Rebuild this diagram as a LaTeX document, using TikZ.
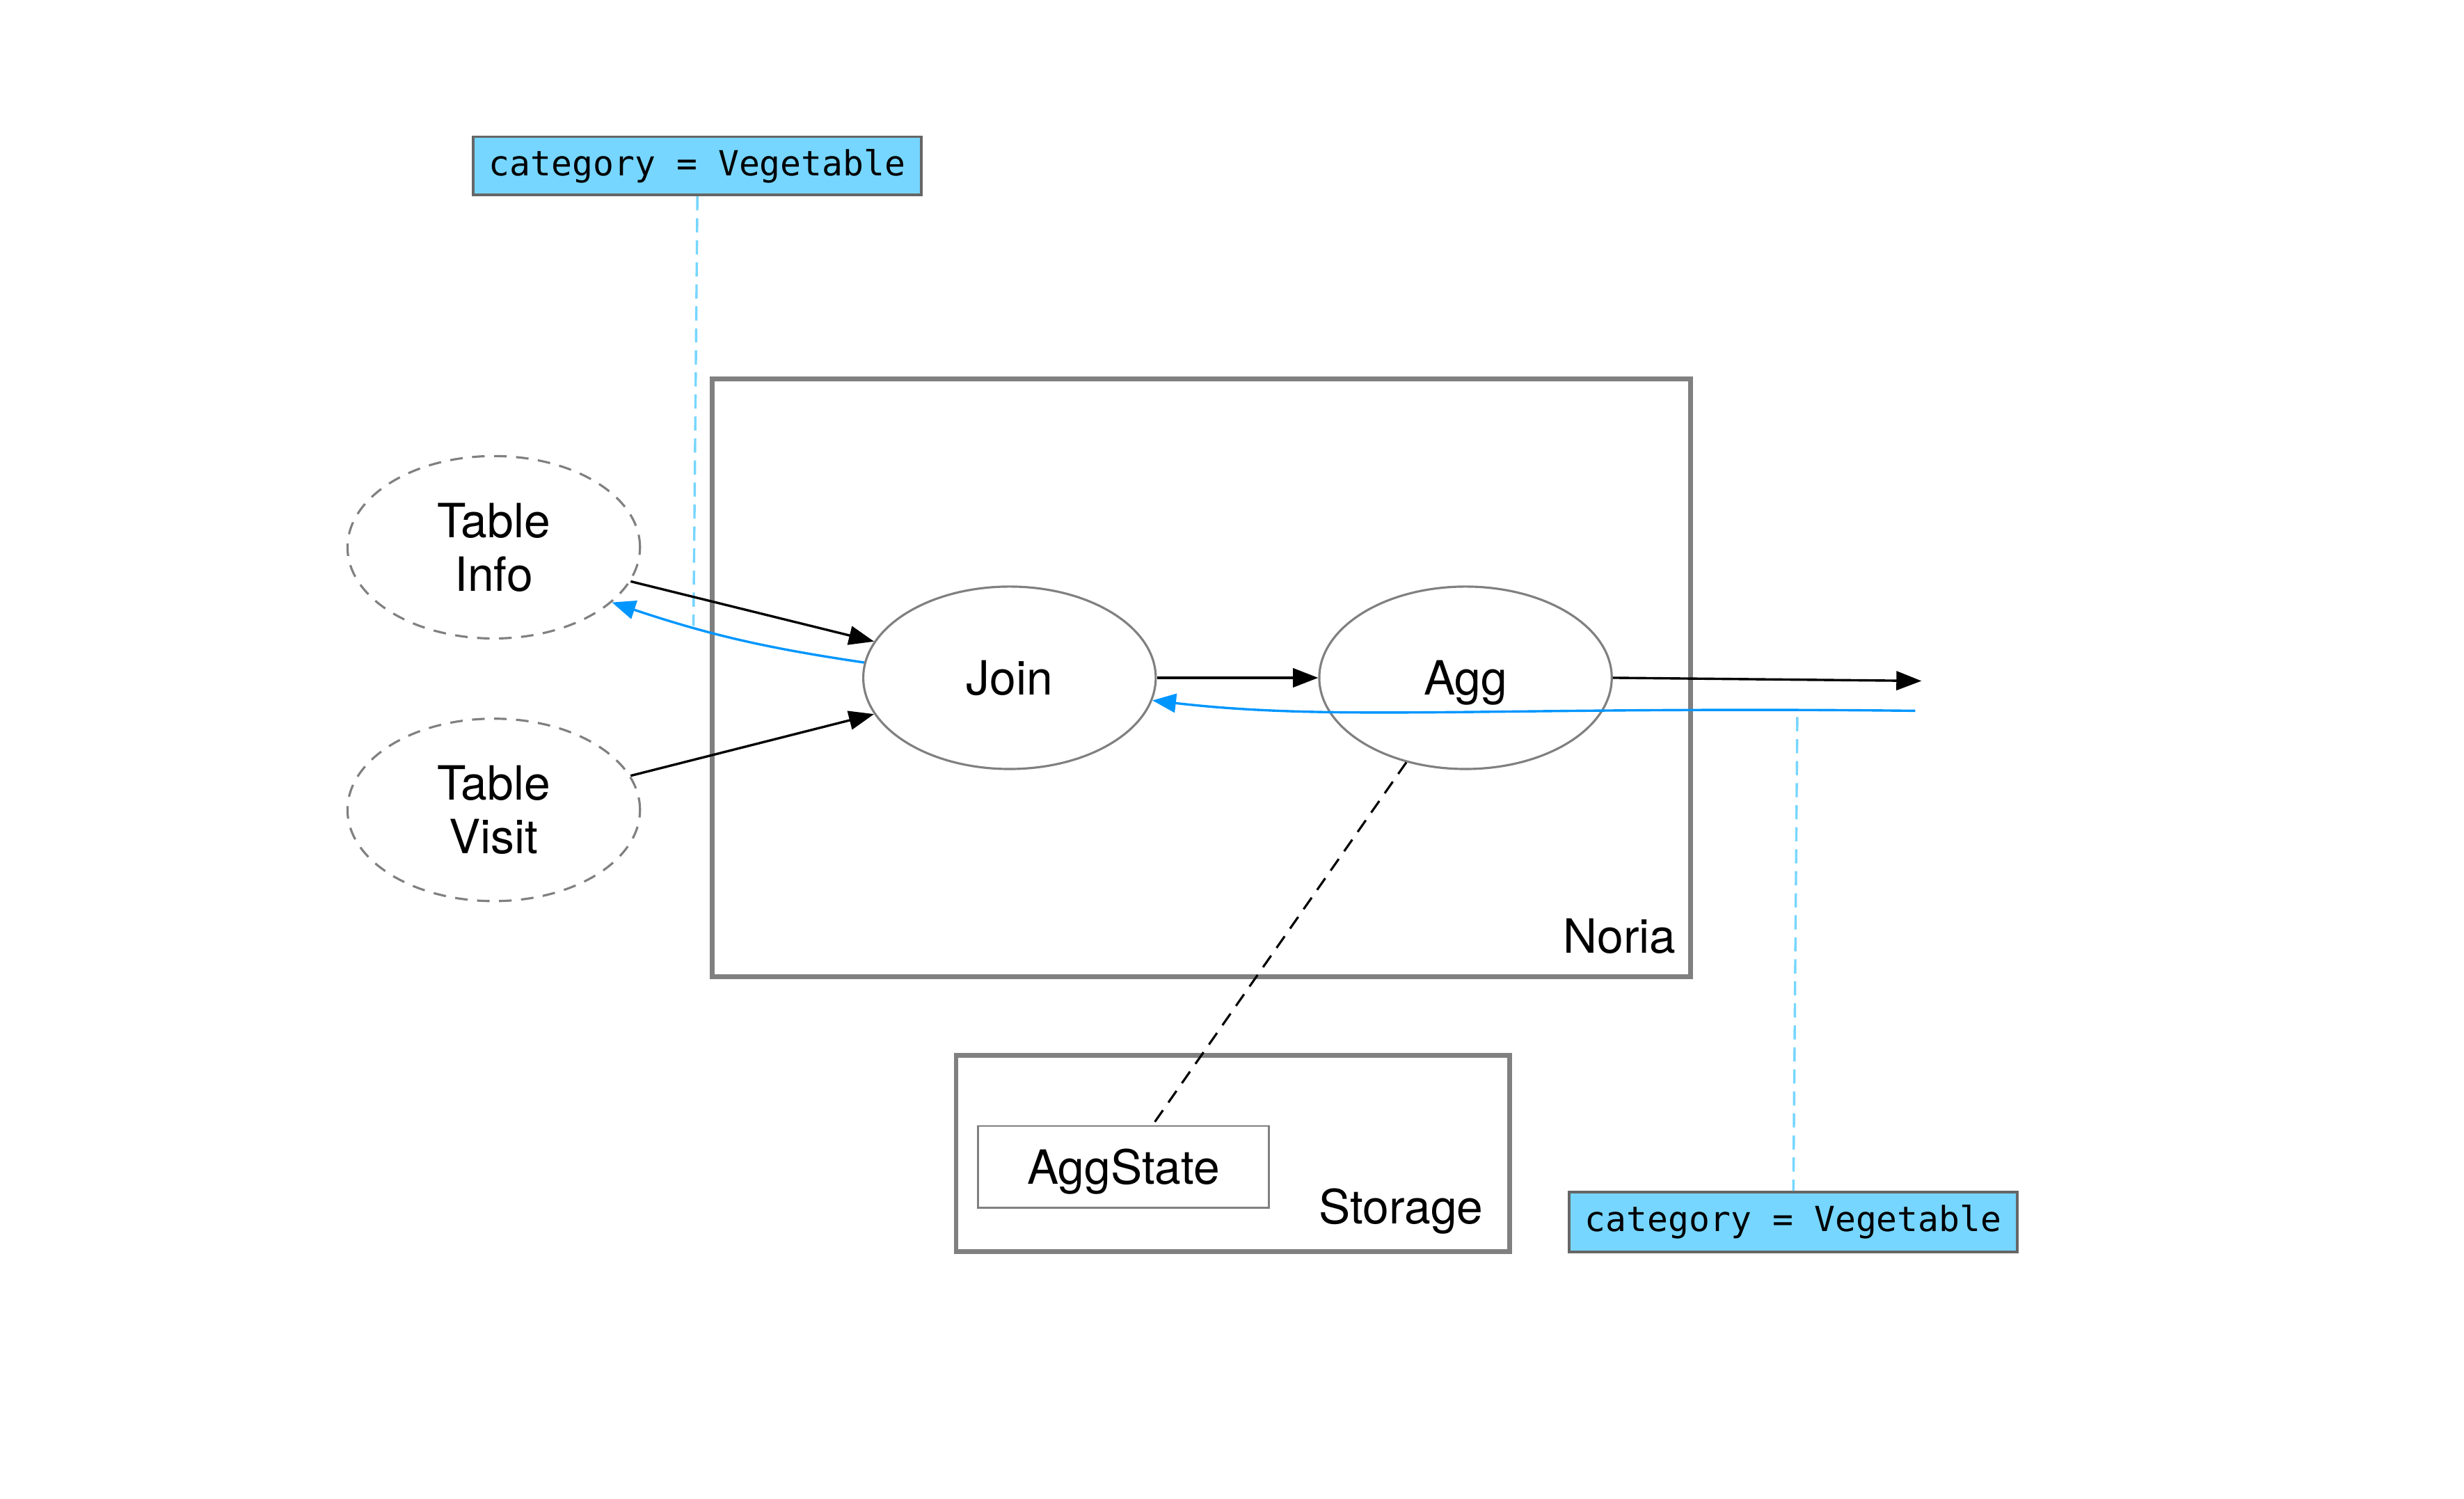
\documentclass[tikz,border=0pt]{standalone}
\usepackage{fontspec}
\setmainfont{TeX Gyre Heros}
\newfontfamily\monofont{DejaVu Sans Mono}
\usetikzlibrary{shapes.geometric,arrows.meta,calc}
\definecolor{sky}{HTML}{76D6FF}
\definecolor{aqua}{HTML}{0096FF}
\definecolor{edgegray}{HTML}{808080}
\definecolor{boxgray}{HTML}{666666}
\begin{document}
\begin{tikzpicture}[x=0.5pt,y=-0.5pt,
  lbl/.style={font=\fontsize{15}{17}\selectfont, align=center},
  tableell/.style={ellipse, draw=edgegray, dash pattern=on 4pt off 3pt, line width=0.7pt, minimum width=93pt, minimum height=58pt, inner sep=0pt, lbl},
  opell/.style={ellipse, draw=edgegray, line width=0.7pt, minimum width=93pt, minimum height=58pt, inner sep=0pt, lbl},
  group/.style={draw=edgegray, line width=1.5pt, inner sep=0pt},
  statebox/.style={draw=edgegray, line width=0.6pt, inner sep=0pt, minimum width=92.5pt, minimum height=26pt},
  catbox/.style={draw=boxgray, fill=sky, line width=0.8pt, minimum width=142.5pt, minimum height=18.5pt, inner sep=0pt, font=\monofont\fontsize{11}{13}\selectfont},
  flow/.style={-{Triangle[length=8pt,width=6pt]}, line width=0.75pt, black},
  back/.style={-{Triangle[length=7.5pt,width=6pt]}, line width=0.75pt, aqua},
  tag/.style={sky, line width=0.75pt, dash pattern=on 4.5pt off 2.5pt},
  link/.style={black, line width=0.7pt, dash pattern=on 4.5pt off 3pt}
]
\useasboundingbox (0,0) rectangle (1567,953);

% group boxes
\node[group, minimum width=311pt, minimum height=190pt] (noria) at (764,431) {};
\node[lbl, anchor=base] (norialbl) at (1030,606) {Noria};
\node[group, minimum width=176pt, minimum height=62.5pt] (storage) at (784,733.5) {};
\node[lbl, anchor=base] (storagelbl) at (891,778) {Storage};
\node[statebox] (aggstate) at (714.5,742) {};
\node[lbl, anchor=base] (aggstatelbl) at (714.5,753) {AggState};

% operators and tables
\node[tableell] (ti) at (314,348) {Table\\Info};
\node[tableell] (tv) at (314,515) {Table\\Visit};
\node[opell] (join) at (642,431) {Join};
\node[opell] (agg) at (932,431) {};
\node[lbl, anchor=base] (agglbl) at (932,442) {Agg};

% category tags
\node[catbox] (cat1) at (443.5,105.5) {category = Vegetable};
\node[catbox, minimum height=19pt] (cat2) at (1140.5,777) {category = Vegetable};
\coordinate (tagend1) at (441,398);
\coordinate (tagstart2) at (1143,456);
\draw[tag] (cat1.south) -- (tagend1);
\draw[tag] (tagstart2) -- (cat2.north);

% state link
\draw[link] (agg.-125) -- ([xshift=9.25pt]aggstate.north);

% data flow
\draw[flow] (ti.-14.5) -- (join.165);
\draw[back] (join.174) to[bend left=5] (ti.-25);
\draw[flow] (tv.14.5) -- (join.195);
\draw[flow] (join.east) -- (agg.west);
\coordinate (outend) at (1222,433);
\draw[flow] (agg.east) -- (outend);
\coordinate (backstart) at (1218,452);
\draw[back] (backstart) .. controls (950,449) and (850,459) .. (join.-9);
\end{tikzpicture}
\end{document}
